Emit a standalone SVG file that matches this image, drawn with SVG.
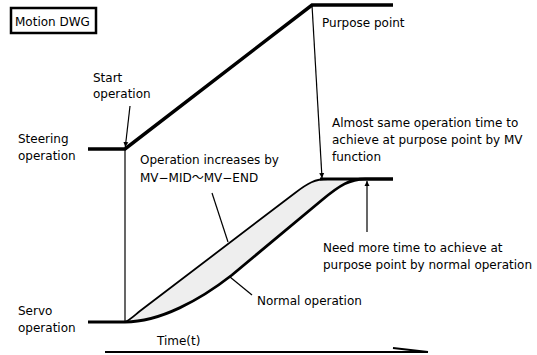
<svg xmlns="http://www.w3.org/2000/svg" width="537" height="355" viewBox="0 0 537 355">
<style>
text{font-family:"DejaVu Sans","Noto Sans CJK JP",sans-serif;font-size:12px;fill:#000}
.thick{fill:none;stroke:#000;stroke-width:3.5;stroke-linejoin:miter}
.thin{fill:none;stroke:#000;stroke-width:1.2}
</style>
<defs>
<marker id="ah" viewBox="0 0 10 10" refX="10" refY="5" markerWidth="5" markerHeight="9" orient="auto" markerUnits="userSpaceOnUse">
<path d="M0,0 L10,5 L0,10 Z" fill="#000"/>
</marker>
</defs>
<g id="title"><rect x="11" y="8" width="85" height="25" fill="#fff" stroke="#000" stroke-width="2.5"/><text x="15" y="26">Motion DWG</text></g>
<g id="steering">
<path class="thick" d="M88,149 L125,149 L312,5 L393,5"/>
<text x="18" y="143">Steering</text><text x="18" y="160">operation</text>
</g>
<g id="servo">
<path d="M125,322 C130,320 135,315 140,311 L295,193 C308,183 315,179 328,179 L365,179 C350,179 340,185 322,200 L232,275 C200,300 160,322 125,322 Z" fill="#eeeeee" stroke="none"/>
<path d="M125,322 C130,320 135,315 140,311 L295,193 C308,183 315,179 328,179" fill="none" stroke="#000" stroke-width="1.8"/>
<path d="M88,322 L125,322 C160,322 200,300 232,275 L322,200 C340,185 350,179 365,179 L393,179" fill="none" stroke="#000" stroke-width="2.8"/>
<path d="M320,179 L393,179" fill="none" stroke="#000" stroke-width="2.8"/>
<text x="18" y="315">Servo</text><text x="18" y="332">operation</text>
</g>
<g id="axis">
<path d="M105,352 L428,352 M393,348 L428,352" fill="none" stroke="#000" stroke-width="2"/>
<text x="157" y="345">Time(t)</text>
</g>
<g id="connectors">
<line class="thin" x1="125" y1="149" x2="125" y2="322"/>
<line class="thin" x1="130" y1="106" x2="125.3" y2="147" marker-end="url(#ah)"/>
<line class="thin" x1="312" y1="5" x2="322" y2="178" marker-end="url(#ah)"/>
<line class="thin" x1="367" y1="232" x2="367" y2="181" marker-end="url(#ah)" stroke-width="1.8"/>
<line class="thin" x1="212" y1="193" x2="228" y2="242"/>
<line class="thin" x1="230" y1="277" x2="252" y2="295"/>
</g>
<g id="labels">
<text x="93" y="82">Start</text><text x="93" y="98">operation</text>
<text x="322" y="27">Purpose point</text>
<text x="332" y="127">Almost same operation time to</text>
<text x="332" y="144">achieve at purpose point by MV</text>
<text x="332" y="161">function</text>
<text x="140" y="164">Operation increases by</text>
<text x="140" y="182">MV−MID～MV−END</text>
<text x="257" y="305">Normal operation</text>
<text x="323" y="252">Need more time to achieve at</text>
<text x="323" y="269">purpose point by normal operation</text>
</g>
</svg>
